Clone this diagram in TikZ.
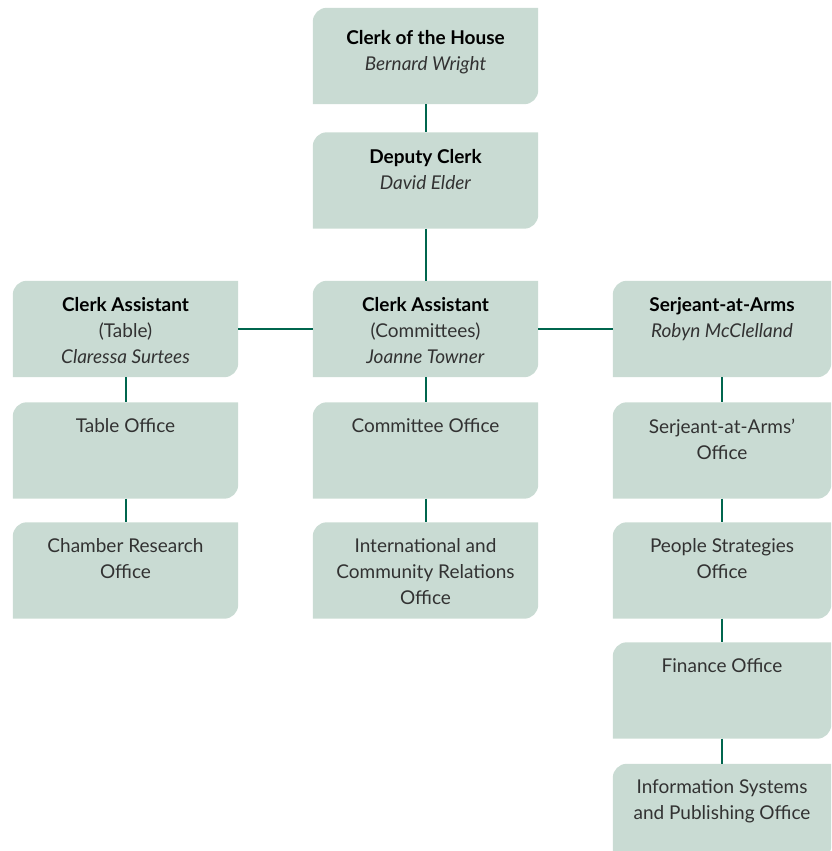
\documentclass[tikz,border=0pt]{standalone}
\usepackage{fontspec}
\setmainfont{Lato}
\definecolor{boxfill}{RGB}{201,219,211}
\definecolor{linkgreen}{RGB}{0,102,78}
\definecolor{textgrey}{RGB}{50,50,50}
\tikzstyle{every node}=[font=\fontsize{19}{26}\selectfont,text=textgrey]
\tikzstyle{orgbox}=[inner sep=0pt,minimum width=225pt,minimum height=96pt]
\tikzstyle{sidebox}=[orgbox,minimum width=218pt]
\tikzstyle{orglabel}=[anchor=north,align=center,inner sep=0pt]
\tikzstyle{link}=[draw=linkgreen,line width=2pt]
\newcommand{\boss}[1]{\textbf{\color{black}#1}}

\begin{document}
\begin{tikzpicture}[x=1pt,y=1pt]
    \useasboundingbox (0,0) rectangle (831,-851);
    \clip (0,0) rectangle (831,-851);

    % boxes, top down
    \node[orgbox] (clerk) at (425.5,-56) {};
    \node[orgbox] (deputy) at (425.5,-180.5) {};
    \node[orgbox] (catable) at (125.5,-329) {};
    \node[orgbox] (cacomm) at (425.5,-329) {};
    \node[sidebox] (serjeant) at (722,-329) {};
    \node[orgbox] (table) at (125.5,-450.5) {};
    \node[orgbox] (committee) at (425.5,-450.5) {};
    \node[sidebox] (saoffice) at (722,-450.5) {};
    \node[orgbox] (chamber) at (125.5,-570.5) {};
    \node[orgbox] (intl) at (425.5,-570.5) {};
    \node[sidebox] (people) at (722,-570.5) {};
    \node[sidebox] (finance) at (722,-690.5) {};
    \node[sidebox] (infosys) at (722,-812) {};

    % fill: round top left and bottom right only
    \foreach \b in {clerk,deputy,catable,cacomm,serjeant,table,committee,
                    saoffice,chamber,intl,people,finance,infosys}
        \fill[boxfill] (\b.south west)
            -- ([yshift=-14pt]\b.north west) arc[start angle=180,end angle=90,radius=14pt]
            -- (\b.north east)
            -- ([yshift=14pt]\b.south east) arc[start angle=0,end angle=-90,radius=14pt]
            -- cycle;

    % connectors
    \draw[link] (clerk) -- (deputy);
    \draw[link] (deputy) -- (cacomm);
    \draw[link] (catable) -- (cacomm);
    \draw[link] (cacomm) -- (serjeant);
    \draw[link] (catable) -- (table);
    \draw[link] (table) -- (chamber);
    \draw[link] (cacomm) -- (committee);
    \draw[link] (committee) -- (intl);
    \draw[link] (serjeant) -- (saoffice);
    \draw[link] (saoffice) -- (people);
    \draw[link] (people) -- (finance);
    \draw[link] (finance) -- (infosys);

    % texts
    \node[orglabel] (clerk-t) at ([yshift=-22pt]clerk.north)
        {\boss{Clerk of the House}\\\textit{Bernard Wright}};
    \node[orglabel] (deputy-t) at ([yshift=-17pt]deputy.north)
        {\boss{Deputy Clerk}\\\textit{David Elder}};
    \node[orglabel] (catable-t) at ([yshift=-16pt]catable.north)
        {\boss{Clerk Assistant}\\(Table)\\\textit{Claressa Surtees}};
    \node[orglabel] (cacomm-t) at ([yshift=-16pt]cacomm.north)
        {\boss{Clerk Assistant}\\(Committees)\\\textit{Joanne Towner}};
    \node[orglabel] (serjeant-t) at ([yshift=-16pt]serjeant.north)
        {\boss{Serjeant-at-Arms}\\\textit{Robyn McClelland}};
    \node[orglabel] (table-t) at ([yshift=-16pt]table.north) {Table Office};
    \node[orglabel] (committee-t) at ([yshift=-16pt]committee.north) {Committee Office};
    \node[orglabel] (saoffice-t) at ([yshift=-16pt]saoffice.north) {Serjeant-at-Arms’\\Office};
    \node[orglabel] (chamber-t) at ([yshift=-16pt]chamber.north) {Chamber Research\\Office};
    \node[orglabel] (intl-t) at ([yshift=-16pt]intl.north)
        {International and\\Community Relations\\Office};
    \node[orglabel] (people-t) at ([yshift=-16pt]people.north) {People Strategies\\Office};
    \node[orglabel] (finance-t) at ([yshift=-16pt]finance.north) {Finance Office};
    \node[orglabel] (infosys-t) at ([yshift=-16pt]infosys.north)
        {Information Systems\\and Publishing Office};
\end{tikzpicture}
\end{document}
